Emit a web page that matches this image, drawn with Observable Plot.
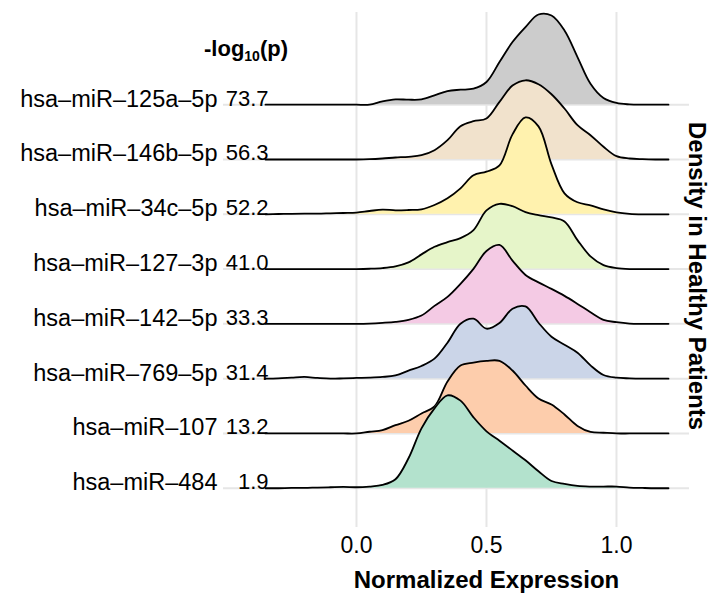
<!DOCTYPE html>
<html>
<head>
<meta charset="utf-8">
<script src="https://cdn.jsdelivr.net/npm/d3@7"></script>
<script src="https://cdn.jsdelivr.net/npm/@observablehq/plot@0.6"></script>
<style>
  html, body { margin: 0; padding: 0; background: #fff; }
  #chart svg { display: block; }
</style>
</head>
<body>
<div id="chart"></div>
<script>
// Categories (top to bottom)
const genes = ["hsa–miR–125a–5p", "hsa–miR–146b–5p", "hsa–miR–34c–5p", "hsa–miR–127–3p",
               "hsa–miR–142–5p", "hsa–miR–769–5p", "hsa–miR–107", "hsa–miR–484"];
const negLogP = [73.7, 56.3, 52.2, 41.0, 33.3, 31.4, 13.2, 1.9];
const fills = ["#cccccc", "#f1e2cc", "#fff2ae", "#e6f5c9", "#f4cae4", "#cbd5e8", "#fdcdac", "#b3e2cd"];

// Sample positions along Normalized Expression
const xs = [-0.35, -0.3, -0.25, -0.2, -0.15, -0.1, -0.05, 0, 0.05, 0.1, 0.15, 0.2, 0.25, 0.3, 0.35, 0.4,
            0.45, 0.5, 0.55, 0.6, 0.65, 0.7, 0.75, 0.8, 0.85, 0.9, 0.95, 1.0, 1.05, 1.1, 1.15, 1.2];
const xTicks = [0, 0.5, 1.0];

// Ridge heights (density; one row spacing = 55)
const d125a = [0,0,0,0,0,0,0, 0,0,3.3,5.3,5,5.3,9.3,13.7,15,16,22.7,42.7,62.7,77.7,90.3,89.3,74.3,47.7,21,6.7,1.7,0.3,0,0,0];
const d146b = [0,0,0,0,0,0,0, 0,0.3,1,2,2.7,4.3,9.3,19.3,33.3,38.3,41,57.7,74,79.3,75.3,65.3,51,34.3,24.3,12.7,3.3,1,0.3,0,0];
const d34c  = [0,0.3,0.5,0.7,0.7,1,1.3, 1.7,3.3,4.7,4,4.3,5,9.3,16,26,39,42.7,49,80,97,88,50,21,12,9,5,2,0.5,0,0,0];
const d127  = [0,0,0,0,0,0,0, 0,0.3,1,2.7,6.7,14.7,22.3,27,31,39,58.7,65.3,63,57,54,51.7,47.7,29,12.7,4,1,0,0,0,0];
const d142  = [0,0,0,0,0,0,0, 0,0.3,1,2,4,8.3,18,27,40,55,73,79,63.3,49,41.5,35,28,20,11.7,4,1.7,0.3,0,0,0];
const d769  = [0,0.3,1,1.7,0.7,0,0.3, 0.7,1,1.7,3.3,8,12.7,20,36,55,60,50,55.7,70,72.3,56,42,34,26,13.3,3.7,1,0.3,0,0,0];
const d107  = [0,0,0,0,0,0,0, 0,1.7,3.3,8.3,12.7,20,27,52,68,71,72.7,72.7,63,48,35,29,19,7.5,1.5,0.7,0,0,0,0,0];
const d484  = [0,0,0.3,0.3,0.7,1,1.3, 1,1.7,3.3,9,30,60,80,93,87.7,71,57,47.5,37.8,28,17,7.3,4.3,2.3,1.7,1.7,1.7,0.7,0.3,0,0];
const densities = [d125a, d146b, d34c, d127, d142, d769, d107, d484];

const rowStep = 54.86;
const n = genes.length;
const rows = genes.map((g, i) => ({gene: g, p: negLogP[i], fill: fills[i], base: (n - 1 - i) * rowStep}));
const ridgeData = rows.map((r, i) => xs.map((x, j) => ({gene: r.gene, x, base: r.base, top: r.base + densities[i][j]})));

const ridgeMarks = ridgeData.flatMap((pts, i) => [
  Plot.areaY(pts, {x: "x", y1: "base", y2: "top", fill: rows[i].fill, curve: "catmull-rom"}),
  Plot.lineY(pts, {x: "x", y: "top", stroke: "#000", strokeWidth: 1.8, curve: "catmull-rom"})
]);

const font = "'Liberation Sans', Arial, Helvetica, sans-serif";

const plot = Plot.plot({
  width: 711,
  height: 594,
  marginLeft: 223,
  marginRight: 22,
  marginTop: 12,
  marginBottom: 67,
  style: {fontFamily: font, fontSize: "23px", color: "#000", background: "#fff"},
  x: {domain: [-0.5115, 1.2808], ticks: xTicks, tickFormat: d3.format(".1f"), tickSize: 0, tickPadding: 9, label: null},
  y: {domain: [-39.3, 7 * rowStep + 92.3], axis: null},
  marks: [
    Plot.ruleX(xTicks, {stroke: "#e6e6e6", strokeWidth: 2}),
    Plot.ruleY(rows, {y: "base", stroke: "#e6e6e6", strokeWidth: 2}),
    ...ridgeMarks,
    Plot.text(rows, {y: "base", text: "gene", frameAnchor: "left", textAnchor: "end", lineAnchor: "bottom", dx: -6, dy: 2, fontSize: 23.5, fill: "#000"}),
    Plot.text(rows, {y: "base", text: d => d.p.toFixed(1), frameAnchor: "left", textAnchor: "end", lineAnchor: "bottom", dx: 45, dy: 1, fontSize: 22, fill: "#000"}),
    Plot.text(["Normalized Expression"], {x: 0.5, frameAnchor: "bottom", text: d => d, dy: 53, lineAnchor: "middle", fontSize: 24, fontWeight: "bold", fill: "#000"}),
    Plot.text(["Density in Healthy Patients"], {frameAnchor: "right", textAnchor: "middle", text: d => d, rotate: 90, dx: 7, dy: 6, lineAnchor: "middle", fontSize: 24, fontWeight: "bold", fill: "#000"})
  ]
});

// Column heading with subscript
const svg = d3.select(plot);
const head = svg.append("text")
  .attr("x", 223 + 23)
  .attr("y", 56)
  .attr("text-anchor", "middle")
  .attr("font-family", font)
  .attr("font-weight", "bold")
  .attr("font-size", 22)
  .attr("fill", "#000");
head.append("tspan").text("-log");
head.append("tspan").attr("font-size", 14).attr("dy", 5).text("10");
head.append("tspan").attr("dy", -5).text("(p)");

document.getElementById("chart").append(plot);
</script>
</body>
</html>
